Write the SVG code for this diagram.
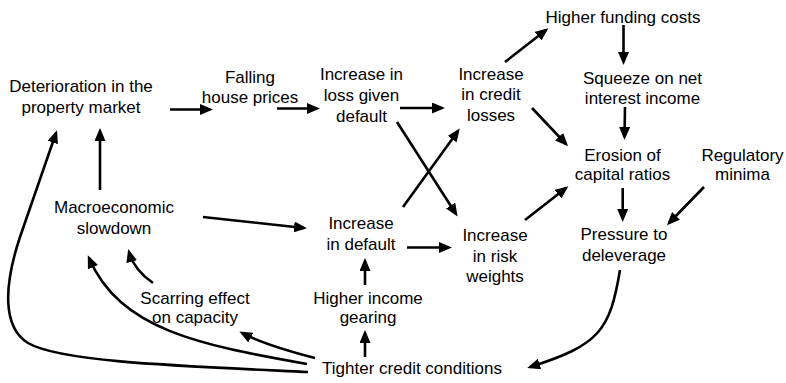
<svg xmlns="http://www.w3.org/2000/svg" width="786" height="383" viewBox="0 0 786 383">
<style>
text{font-family:"Liberation Sans",Arial,sans-serif;font-size:17px;fill:#000;text-anchor:middle}
.c{fill:none;stroke:#000;stroke-width:2.6;marker-end:url(#ah)}
</style>
<defs>
<marker id="ah" markerUnits="userSpaceOnUse" markerWidth="13" markerHeight="11" viewBox="0 0 13 11" refX="10" refY="5.5" orient="auto">
<path d="M0,0 L13,5.5 L0,11 z" fill="#000"/>
</marker>
</defs>
<rect width="786" height="383" fill="#fff"/>
<g id="n-deterioration"><text x="81" y="92">Deterioration in the</text><text x="81" y="113">property market</text></g>
<g id="n-falling"><text x="250" y="82.5">Falling</text><text x="250" y="103">house prices</text></g>
<g id="n-lgd"><text x="361.5" y="80">Increase in</text><text x="361.5" y="101">loss given</text><text x="361.5" y="121.5">default</text></g>
<g id="n-credit-losses"><text x="491" y="79.5">Increase</text><text x="491" y="100">in credit</text><text x="491" y="120.5">losses</text></g>
<g id="n-funding"><text x="623" y="23">Higher funding costs</text></g>
<g id="n-squeeze"><text x="642.5" y="83.5">Squeeze on net</text><text x="642.5" y="104">interest income</text></g>
<g id="n-erosion"><text x="622.5" y="160.5">Erosion of</text><text x="622.5" y="180">capital ratios</text></g>
<g id="n-regulatory"><text x="742.5" y="160.5">Regulatory</text><text x="742.5" y="180">minima</text></g>
<g id="n-pressure"><text x="624" y="240">Pressure to</text><text x="624" y="260.5">deleverage</text></g>
<g id="n-risk"><text x="495" y="241">Increase</text><text x="495" y="261.5">in risk</text><text x="495" y="282">weights</text></g>
<g id="n-default"><text x="361" y="229">Increase</text><text x="361" y="250">in default</text></g>
<g id="n-macro"><text x="114" y="213">Macroeconomic</text><text x="114" y="233.5">slowdown</text></g>
<g id="n-gearing"><text x="368" y="303.5">Higher income</text><text x="368" y="323">gearing</text></g>
<g id="n-scarring"><text x="195" y="303.5">Scarring effect</text><text x="195" y="323">on capacity</text></g>
<g id="n-tighter"><text x="412" y="373.5">Tighter credit conditions</text></g>
<g id="connectors">
<path class="c" d="M170,109.5 L210,109.5"/>
<path class="c" d="M277,108.5 L317,108.5"/>
<path class="c" d="M400,108 L442,108"/>
<path class="c" d="M505,62 L546,30"/>
<path class="c" d="M623.5,25 L623.5,62"/>
<path class="c" d="M625,107 L624.5,137"/>
<path class="c" d="M532,108 L566,144"/>
<path class="c" d="M397,122 L456,214"/>
<path class="c" d="M403,207 L458,131"/>
<path class="c" d="M407,247.5 L449,247.5"/>
<path class="c" d="M525,220 L566,188"/>
<path class="c" d="M622.7,188 L622.7,219"/>
<path class="c" d="M704,187 L669,223"/>
<path class="c" d="M203,217 L304,228"/>
<path class="c" d="M100,190 L100,131"/>
<path class="c" d="M365,285 L365,261"/>
<path class="c" d="M365,357 L365,333"/>
<path class="c" d="M620,270 C610,330 600,345 530,367"/>
<path class="c" d="M315,358 Q265,345 242,333"/>
<path class="c" d="M153,283 Q134,270 129,252"/>
<path class="c" d="M307,364 C200,345 120,330 89,258"/>
<path class="c" d="M308,372 C180,366 60,362 28,343 C2,327 4,285 20,237 L56,133"/>
</g>
</svg>
